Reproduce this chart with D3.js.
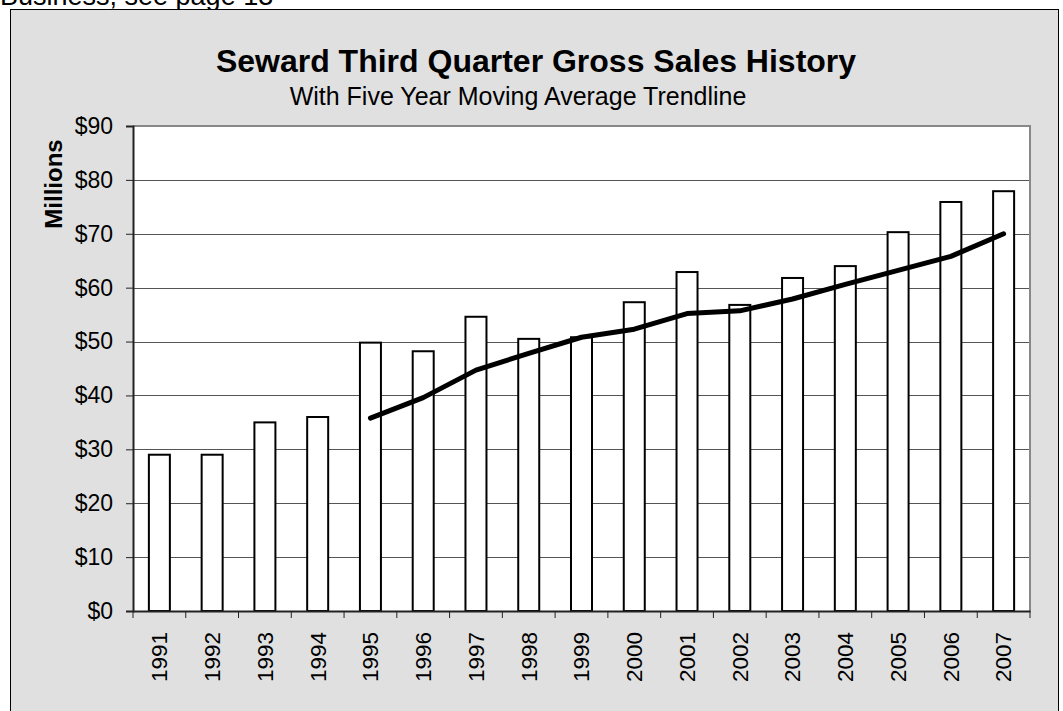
<!DOCTYPE html>
<html><head><meta charset="utf-8">
<script src="https://cdn.jsdelivr.net/npm/d3@7"></script>
<style>
html,body{margin:0;padding:0;background:#fff;}
svg{display:block;font-family:"Liberation Sans",Arial,sans-serif;}
</style></head>
<body>
<svg id="chart" width="1063" height="711"></svg>
<script>
const years = ["1991","1992","1993","1994","1995","1996","1997","1998","1999","2000","2001","2002","2003","2004","2005","2006","2007"];
const sales = [29.0,29.0,35.0,36.0,49.8,48.2,54.6,50.5,50.8,57.3,62.9,56.8,61.8,64.0,70.3,75.9,77.9];
const trendYears = ["1995","1996","1997","1998","1999","2000","2001","2002","2003","2004","2005","2006","2007"];
const trendValues = [35.8,39.6,44.7,47.8,50.8,52.3,55.2,55.7,57.9,60.6,63.2,65.8,70.0];
const yTicks = [0,10,20,30,40,50,60,70,80,90];
const titleText = "Seward Third Quarter Gross Sales History";
const subtitleText = "With Five Year Moving Average Trendline";
const yAxisLabel = "Millions";
const noteText = "Business, see page 13";

const FONT = "'Liberation Sans',Arial,sans-serif";
const svg = d3.select("#chart");
const plot = {left:133, top:126, right:1030, bottom:611};

svg.append("text").attr("x",0).attr("y",5).attr("font-size",27).attr("font-family",FONT).attr("fill","#000").text(noteText);

svg.append("rect").attr("x",10.5).attr("y",9.5).attr("width",1048).attr("height",720)
  .attr("fill","#e0e0e0").attr("stroke","#000").attr("stroke-width",1);

const x = d3.scaleBand().domain(years).range([plot.left, plot.right]).paddingInner(0).paddingOuter(0);
const y = d3.scaleLinear().domain([0,90]).range([plot.bottom, plot.top]);

svg.append("rect").attr("x",plot.left).attr("y",plot.top).attr("width",plot.right-plot.left).attr("height",plot.bottom-plot.top).attr("fill","#fff");

svg.append("g").selectAll("line").data(yTicks.filter(d=>d>0 && d<90)).join("line")
  .attr("x1",plot.left).attr("x2",plot.right)
  .attr("y1",d=>Math.round(y(d))+0.5).attr("y2",d=>Math.round(y(d))+0.5)
  .attr("stroke","#555").attr("stroke-width",1);

svg.append("path").attr("d",`M${plot.left},${plot.top} H${plot.right} V${plot.bottom}`)
  .attr("fill","none").attr("stroke","#888").attr("stroke-width",2);

const bw = 21;
svg.append("g").selectAll("rect").data(sales).join("rect")
  .attr("x",(d,i)=>x(years[i]) + x.bandwidth()/2 - bw/2)
  .attr("y",d=>y(d))
  .attr("width",bw)
  .attr("height",d=>plot.bottom - y(d))
  .attr("fill","#fff").attr("stroke","#000").attr("stroke-width",2);

const yAxis = d3.axisLeft(y).tickValues(yTicks).tickFormat(d=>"$"+d).tickSize(7).tickPadding(13);
const gy = svg.append("g").attr("transform",`translate(${plot.left},0)`).call(yAxis);
gy.select(".domain").attr("stroke","#222").attr("stroke-width",2);
gy.selectAll(".tick line").attr("stroke","#222").attr("stroke-width",1);
gy.selectAll("text").attr("font-size",23).attr("font-family",FONT).attr("fill","#000");

const xAxis = d3.axisBottom(x).tickSize(0).tickPadding(0);
const gx = svg.append("g").attr("transform",`translate(0,${plot.bottom})`).call(xAxis);
gx.select(".domain").attr("stroke","#222").attr("stroke-width",2);
gx.selectAll("text").attr("font-size",22.5).attr("font-family",FONT).attr("fill","#000")
  .attr("transform","translate(0,21) rotate(-90)").attr("dy","0.35em").attr("text-anchor","end").attr("y",0).attr("x",0);
const bounds = years.map(d=>x(d)).concat([plot.right]);
svg.append("g").selectAll("line").data(bounds).join("line")
  .attr("x1",d=>d).attr("x2",d=>d).attr("y1",plot.bottom).attr("y2",plot.bottom+7)
  .attr("stroke","#222").attr("stroke-width",1);

const line = d3.line().x((d,i)=>x(trendYears[i]) + x.bandwidth()/2).y(d=>y(d));
svg.append("path").datum(trendValues).attr("d",line)
  .attr("fill","none").attr("stroke","#000").attr("stroke-width",5)
  .attr("stroke-linecap","round").attr("stroke-linejoin","round");

svg.append("text").attr("x",536).attr("y",72).attr("text-anchor","middle").attr("font-family",FONT)
  .attr("font-size",32).attr("font-weight","bold").attr("fill","#000").text(titleText);
svg.append("text").attr("x",518).attr("y",105).attr("text-anchor","middle").attr("font-family",FONT)
  .attr("font-size",25).attr("fill","#000").text(subtitleText);
svg.append("text").attr("transform","translate(62,184) rotate(-90)").attr("text-anchor","middle").attr("font-family",FONT)
  .attr("font-size",24).attr("font-weight","bold").attr("fill","#000").text(yAxisLabel);
</script>
</body></html>
